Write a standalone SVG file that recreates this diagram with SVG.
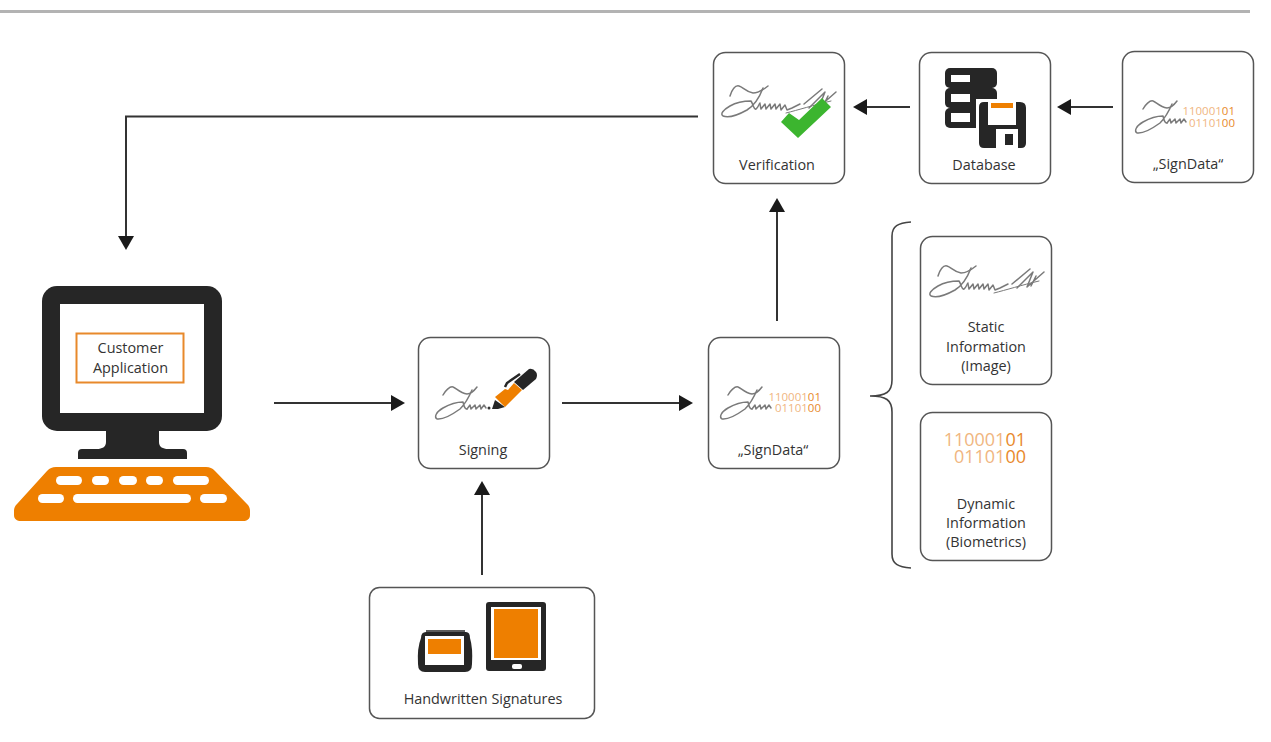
<svg xmlns="http://www.w3.org/2000/svg" width="1271" height="742" viewBox="0 0 1271 742">
<style>
.box{fill:#fff;stroke:#555;stroke-width:1.5}
.lbl{font-family:"Open Sans","Liberation Sans",sans-serif;font-size:14.400px;fill:#333;text-anchor:middle}
.con{fill:none;stroke:#333;stroke-width:2}
.sig{fill:none;stroke:#7a7a7a;stroke-width:1.500;stroke-linejoin:round;stroke-linecap:round}
.bin{font-family:"Open Sans","Liberation Sans",sans-serif;fill:#f0b67f;text-anchor:end}
.bin .d{fill:#e8892b}
.dk{fill:#262626}.or{fill:#ee7f00}.wh{fill:#fff}
</style>
<defs>
<marker id="ah" markerUnits="userSpaceOnUse" markerWidth="15" markerHeight="16" refX="0" refY="8" orient="auto"><path d="M0 0L14 8L0 16Z" fill="#1a1a1a"/></marker>
<g id="sigLong" class="sig">
<path d="M938 276C940 270 943 265 947 266C951 267 954 272 961 273C966 273 971 270 976 266"/>
<path d="M971 268C968 276 963 285 955 290C946 295 936 298 931 296C928 294 931 290 938 286C945 282 953 281 959 281C961 284 962 290 964 289C966 288 967 284 968 283"/>
<path d="M968 284L969 289L973 284L974 289L978 284L979 289L983 284L984 289L988 284L989 290L993 285L995 290L1000 288L1008 284"/>
<path d="M1012 284L1030 269M1017 288L1033 272L1027 287L1044 272M1036 276L1031 286"/>
<path d="M994 293C1006 290 1022 285 1039 281" stroke-width="1"/>
</g>
<g id="sigShort" class="sig">
<path d="M728 395C730 391 735 386 738 387C741 388 745 393 752 394C756 394 759 391 762 387"/>
<path d="M757 390C754 397 750 404 745 409C738 414 728 420 722 419C719 417 721 412 728 408C735 404 743 402 748 402C749 405 749 409 752 409"/>
<path d="M752 409L755 405L756 409L760 405L761 409L765 405L766 409L769 405L771 408"/>
</g>
</defs>

<rect id="top-rule" x="0" y="10" width="1250" height="3" fill="#b3b3b3"/>

<g id="connectors">
<path class="con" marker-end="url(#ah)" d="M698 116.500H126V236"/>
<path class="con" marker-end="url(#ah)" d="M274 403H391"/>
<path class="con" marker-end="url(#ah)" d="M562 403H679"/>
<path class="con" marker-end="url(#ah)" d="M482 575V495"/>
<path class="con" marker-end="url(#ah)" d="M777 321V212"/>
<path class="con" marker-end="url(#ah)" d="M910 107H867"/>
<path class="con" marker-end="url(#ah)" d="M1113 107H1071"/>
</g>

<g id="brace"><path class="con" style="stroke:#444;stroke-width:1.600" d="M911 222C898 223 892 226 892 236V380C892 392 886 396 870 396C886 396 892 400 892 412V554C892 564 898 567 911 568"/></g>

<g id="customer-application">
<rect class="dk" x="42" y="286" width="180" height="145" rx="15"/>
<rect class="wh" x="60" y="304" width="144" height="109"/>
<path class="dk" d="M106 430H159V442C159 447 163 449 168 449H183Q187 449 187 453V459H78V453Q78 449 82 449H97C102 449 106 447 106 442Z"/>
<rect x="76.500" y="333.500" width="107" height="49" fill="#fff" stroke="#e8892b" stroke-width="2"/>
<text class="lbl" x="130.500" y="353">Customer</text>
<text class="lbl" x="130.500" y="373">Application</text>
<path class="or" d="M56 467H206C210 467 212 468 215 471L247 504C249 506 250 508 250 511V515C250 519 247 521 243 521H21C17 521 14 519 14 515V511C14 508 15 506 17 504L47 471C50 468 52 467 56 467Z"/>
<g class="wh">
<rect x="56" y="476" width="26" height="9" rx="4.500"/><rect x="92" y="476" width="17" height="9" rx="4.500"/><rect x="119" y="476" width="18" height="9" rx="4.500"/><rect x="146" y="476" width="17" height="9" rx="4.500"/><rect x="173" y="476" width="36" height="9" rx="4.500"/>
<rect x="38" y="494" width="26" height="9" rx="4.500"/><rect x="73" y="494" width="118" height="9" rx="4.500"/><rect x="200" y="494" width="27" height="9" rx="4.500"/>
</g>
</g>

<g id="signing">
<rect class="box" x="418.500" y="337.500" width="131" height="131" rx="12"/>
<use href="#sigShort" transform="translate(-285 0)"/>
<circle cx="489" cy="408" r="1.500" fill="#333"/>
<path class="dk" d="M495 400L505 407L498 409L492 409Z"/>
<path class="or" d="M495 397L505 389L508 390L514 383L522 390L505 407Z"/>
<path class="dk" d="M514 382L523 390L536 379Q538 375 536 372Q533 368 529 369Z"/>
<path d="M505 387L507 383L520 374" fill="none" stroke="#262626" stroke-width="2.500"/>
<text class="lbl" x="483" y="455">Signing</text>
</g>

<g id="signdata-middle">
<rect class="box" x="708.500" y="337.500" width="131" height="131" rx="12"/>
<use href="#sigShort"/>
<text class="bin" font-size="11.500"><tspan x="821" y="401">110001<tspan class="d">01</tspan></tspan><tspan x="821" y="412">01101<tspan class="d">00</tspan></tspan></text>
<text class="lbl" x="773" y="455">„SignData“</text>
</g>

<g id="verification">
<rect class="box" x="713.500" y="52.500" width="131" height="131" rx="12"/>
<use href="#sigLong" transform="translate(-208 -180)"/>
<path fill="#3cb52f" d="M781 122L798 138L831 107L822 98L799 120L789 113Z"/>
<text class="lbl" x="777" y="170">Verification</text>
</g>

<g id="database">
<rect class="box" x="919.500" y="52.500" width="131" height="131" rx="12"/>
<rect class="dk" x="945" y="68" width="52" height="20" rx="5"/>
<rect class="dk" x="945" y="88" width="52" height="20" rx="5"/>
<rect class="dk" x="945" y="108" width="52" height="20" rx="5"/>
<rect class="wh" x="951" y="75" width="19" height="7"/>
<rect class="wh" x="951" y="94" width="19" height="8"/>
<rect class="wh" x="951" y="113" width="19" height="9"/>
<path class="wh" d="M976 99H1029V151H976Z"/>
<path class="dk" d="M984 102H1020Q1026 102 1026 108V143Q1026 148 1021 148H984Q979 148 979 143V107Q979 102 984 102Z"/>
<path class="wh" d="M988 102H1016V125H988Z"/>
<rect class="or" x="991" y="103" width="22" height="5"/>
<rect class="wh" x="996" y="129" width="22" height="19"/>
<rect class="dk" x="1005" y="134" width="8" height="11"/>
<text class="lbl" x="984" y="170">Database</text>
</g>

<g id="signdata-top">
<rect class="box" x="1122.500" y="51.500" width="131" height="131" rx="12"/>
<use href="#sigShort" transform="translate(415 -286)"/>
<text class="bin" font-size="11.500"><tspan x="1235" y="115">110001<tspan class="d">01</tspan></tspan><tspan x="1235" y="127">01101<tspan class="d">00</tspan></tspan></text>
<text class="lbl" x="1188" y="169">„SignData“</text>
</g>

<g id="static-information">
<rect class="box" x="920.500" y="236.500" width="131" height="148" rx="12"/>
<use href="#sigLong"/>
<text class="lbl" x="986" y="332">Static</text>
<text class="lbl" x="986" y="352">Information</text>
<text class="lbl" x="986" y="371">(Image)</text>
</g>

<g id="dynamic-information">
<rect class="box" x="920.500" y="412.500" width="131" height="148" rx="12"/>
<text class="bin" font-size="18"><tspan x="1026" y="446">110001<tspan class="d">01</tspan></tspan><tspan x="1026" y="463">01101<tspan class="d">00</tspan></tspan></text>
<text class="lbl" x="986" y="509">Dynamic</text>
<text class="lbl" x="986" y="528">Information</text>
<text class="lbl" x="986" y="547">(Biometrics)</text>
</g>

<g id="handwritten-signatures">
<rect class="box" x="369.500" y="587.500" width="225" height="131" rx="10"/>
<path d="M426 631H465" stroke="#262626" stroke-width="1.500"/>
<path class="dk" d="M426 632H466Q470 632 470 638Q473 648 472 664Q472 672 465 672H425Q418 672 418 664Q417 648 421 638Q421 632 426 632Z"/>
<rect class="wh" x="425" y="636" width="39" height="29"/>
<rect class="or" x="428" y="639" width="33" height="15"/>
<rect class="dk" x="486" y="602" width="60" height="69" rx="3"/>
<rect class="wh" x="491" y="607" width="50" height="53"/>
<rect class="or" x="494" y="609" width="44" height="49"/>
<rect class="wh" x="512" y="664" width="10" height="5" rx="2"/>
<text class="lbl" x="483" y="704">Handwritten Signatures</text>
</g>
</svg>
